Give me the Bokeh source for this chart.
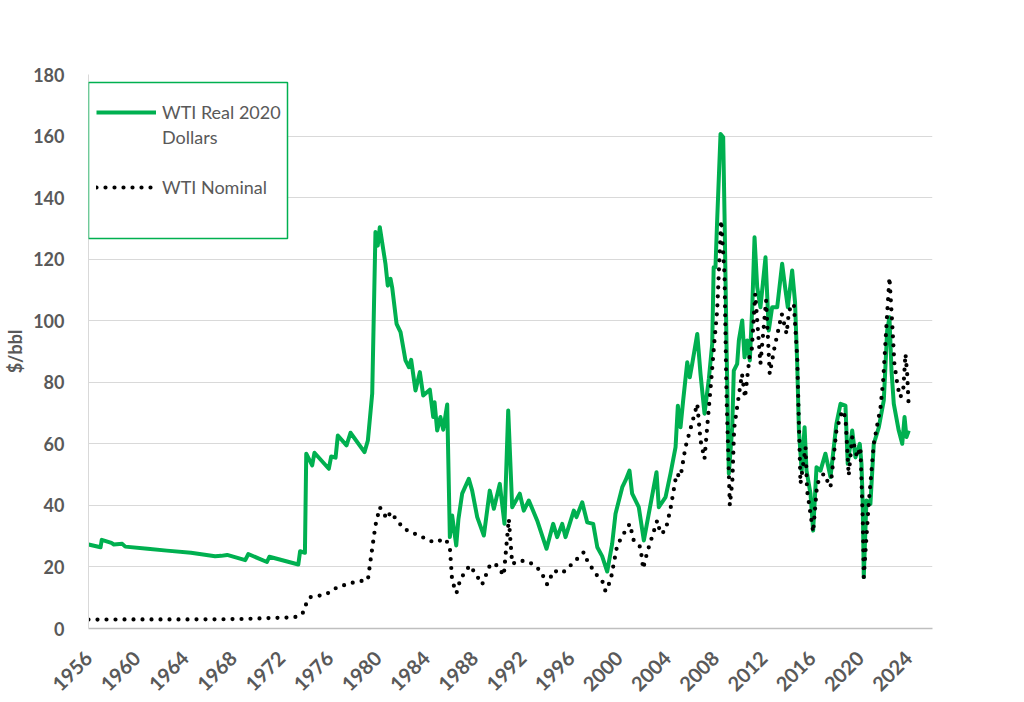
import math
from bokeh.plotting import figure
from bokeh.models import Range1d, FixedTicker, Legend, LegendItem, BoxAnnotation, ColumnDataSource
from bokeh.embed import file_html
from bokeh.resources import INLINE

# ---------------- data ----------------
real_year = [1956.0, 1957.0, 1957.1, 1957.9, 1958.1, 1958.8, 1959.05, 1960.9, 1962.5, 1964.5,
             1966.5, 1967.0, 1967.5, 1969.0, 1969.25, 1970.8, 1971.0, 1973.4, 1973.55, 1973.95,
             1974.06, 1974.55, 1974.74, 1975.93, 1976.13, 1976.49, 1976.68, 1977.4, 1977.73, 1978.89,
             1979.17, 1979.53, 1979.8, 1979.99, 1980.16, 1980.63, 1980.82, 1981.05, 1981.19, 1981.55,
             1981.88, 1982.29, 1982.57, 1982.76, 1983.12, 1983.48, 1983.76, 1984.31, 1984.59, 1984.7,
             1984.92, 1985.19, 1985.42, 1985.75, 1985.97, 1986.16, 1986.5, 1986.68, 1986.99, 1987.54,
             1987.82, 1988.24, 1988.79, 1989.28, 1989.62, 1990.11, 1990.5, 1990.81, 1991.14, 1991.77,
             1992.1, 1992.52, 1993.21, 1993.99, 1994.54, 1994.87, 1995.29, 1995.56, 1996.25, 1996.47,
             1996.95, 1997.36, 1997.86, 1998.2, 1998.6, 1999.02, 1999.43, 1999.71, 2000.27, 2000.54,
             2000.87, 2001.09, 2001.64, 2002.06, 2002.47, 2003.11, 2003.3, 2003.86, 2004.27, 2004.69,
             2004.88, 2005.1, 2005.32, 2005.66, 2005.87, 2006.07, 2006.49, 2006.76, 2007.09, 2007.45,
             2007.73, 2007.85, 2008.0, 2008.14, 2008.42, 2008.64, 2008.75, 2008.92, 2009.11, 2009.39,
             2009.52, 2009.8, 2009.94, 2010.22, 2010.41, 2010.63, 2010.85, 2011.05, 2011.24, 2011.46,
             2011.73, 2012.15, 2012.42, 2012.7, 2013.12, 2013.53, 2013.81, 2014.0, 2014.36, 2014.6,
             2014.78, 2014.92, 2015.15, 2015.39, 2015.55, 2015.88, 2016.1, 2016.38, 2016.71, 2017.12,
             2017.54, 2018.03, 2018.37, 2018.78, 2018.97, 2019.34, 2019.61, 2019.97, 2020.11, 2020.22,
             2020.3, 2020.52, 2020.85, 2021.13, 2021.55, 2021.96, 2022.24, 2022.43, 2022.6, 2022.79,
             2023.2, 2023.49, 2023.68, 2023.84, 2024.03]
real_value = [27.3, 26.4, 28.8, 27.8, 27.3, 27.5, 26.6, 25.9, 25.3, 24.6,
              23.5, 23.6, 23.9, 22.2, 24.2, 21.6, 23.3, 20.8, 25.1, 24.6,
              56.8, 53.0, 57.1, 51.9, 55.9, 55.5, 62.7, 59.5, 63.6, 57.3,
              61.1, 76.3, 128.8, 124.4, 130.4, 118.5, 111.4, 113.6, 110.7, 99.0,
              96.3, 87.1, 84.9, 87.3, 77.3, 83.3, 75.7, 77.6, 68.7, 73.5,
              64.3, 68.7, 64.6, 72.8, 29.7, 36.7, 27.0, 35.5, 43.8, 48.6,
              44.8, 36.2, 30.2, 44.8, 38.9, 47.0, 34.0, 70.8, 39.4, 43.8,
              38.3, 41.6, 35.1, 25.9, 34.0, 29.7, 34.0, 29.7, 38.3, 36.2,
              41.0, 34.5, 34.0, 26.4, 23.5, 18.5, 27.5, 37.3, 45.9, 48.1,
              51.3, 43.8, 39.4, 28.6, 37.3, 50.8, 39.4, 42.7, 50.3, 58.9,
              72.4, 65.4, 74.1, 86.5, 81.6, 86.0, 95.7, 82.7, 69.8, 81.1,
              92.5, 117.4, 117.4, 132.6, 160.7, 159.6, 134.7, 91.4, 50.3, 65.4,
              83.8, 86.0, 93.6, 100.1, 88.1, 93.6, 87.1, 104.4, 127.1, 110.9,
              104.4, 120.6, 96.8, 104.4, 104.4, 118.5, 109.8, 104.4, 116.3, 106.0,
              86.0, 64.3, 51.3, 65.4, 51.3, 43.8, 31.8, 52.4, 51.3, 56.8,
              49.2, 66.5, 73.0, 72.4, 53.5, 64.3, 55.6, 60.0, 53.5, 39.4,
              16.7, 41.6, 40.5, 60.0, 65.4, 74.1, 96.8, 101.1, 83.8, 73.0,
              64.3, 60.0, 68.7, 62.2, 64.3]

nominal_year = [1956.0, 1960.0, 1964.0, 1967.0, 1969.0, 1971.0, 1973.0, 1973.58, 1973.92, 1974.08,
                1974.41, 1975.66, 1976.63, 1978.0, 1979.17, 1979.39, 1979.8, 1980.16, 1980.77, 1981.05,
                1982.15, 1983.4, 1984.64, 1985.61, 1985.97, 1986.16, 1986.52, 1986.85, 1987.62, 1988.1,
                1988.65, 1989.34, 1989.9, 1990.44, 1990.86, 1991.14, 1991.83, 1992.6, 1993.49, 1994.04,
                1994.59, 1995.29, 1996.12, 1997.08, 1997.36, 1998.05, 1998.6, 1998.88, 1999.3, 1999.85,
                2000.39, 2000.89, 2001.22, 2001.78, 2002.0, 2002.34, 2003.17, 2003.44, 2003.86, 2004.27,
                2004.77, 2005.1, 2005.51, 2005.93, 2006.49, 2006.76, 2007.09, 2007.36, 2007.65, 2007.92,
                2008.14, 2008.47, 2008.75, 2008.92, 2009.19, 2009.4, 2009.55, 2009.8, 2010.2, 2010.45,
                2010.85, 2011.0, 2011.3, 2011.73, 2012.2, 2012.5, 2012.9, 2013.5, 2013.9, 2014.1,
                2014.5, 2014.78, 2015.05, 2015.47, 2015.6, 2016.1, 2016.43, 2016.98, 2017.54, 2018.03,
                2018.51, 2018.78, 2019.05, 2019.34, 2019.75, 2020.02, 2020.22, 2020.3, 2020.71, 2021.13,
                2021.69, 2021.91, 2022.24, 2022.43, 2022.66, 2022.84, 2023.12, 2023.33, 2023.57, 2023.76,
                2023.9, 2024.03]
nominal_value = [2.9, 2.95, 2.95, 3.0, 3.1, 3.4, 3.6, 4.2, 5.8, 8.5,
                 10.2, 11.0, 13.4, 15.0, 15.8, 22.1, 33.5, 39.4, 35.6, 37.8,
                 32.4, 30.2, 28.0, 29.1, 26.4, 15.5, 11.5, 16.1, 20.5, 17.8,
                 14.3, 21.0, 20.5, 17.2, 35.6, 21.0, 22.1, 21.5, 18.8, 14.3,
                 18.8, 18.0, 21.0, 24.8, 22.1, 17.8, 15.6, 12.1, 15.6, 27.0,
                 30.8, 34.0, 28.6, 26.4, 19.4, 24.8, 35.1, 30.8, 31.8, 38.9,
                 50.3, 49.2, 58.9, 64.9, 73.0, 61.1, 55.1, 67.6, 80.6, 93.6,
                 103.3, 132.6, 115.0, 75.0, 40.0, 48.0, 65.0, 72.0, 82.7, 75.0,
                 89.0, 90.0, 108.7, 86.0, 106.6, 82.7, 91.4, 102.2, 95.7, 103.3,
                 105.5, 88.0, 47.0, 58.9, 44.8, 31.3, 47.0, 50.3, 45.9, 64.3,
                 70.8, 68.7, 49.7, 62.2, 55.6, 58.9, 35.0, 16.7, 40.5, 60.0,
                 71.9, 80.6, 102.2, 114.1, 99.0, 86.0, 78.4, 75.1, 77.3, 89.2,
                 82.7, 71.9]

x_ticks = list(range(1956, 2025, 4))
y_ticks = list(range(0, 181, 20))
series_labels = ["WTI Real 2020\nDollars", "WTI Nominal"]
y_title = "$/bbl"

GREEN = "#00B050"
GRAY_TXT = "#595959"
GRID = "#D9D9D9"

# ---------------- figure ----------------
p = figure(width=1024, height=702, output_backend="svg", toolbar_location=None,
           x_range=Range1d(1956, 2026), y_range=Range1d(0, 180),
           min_border_left=88, min_border_right=92, min_border_top=74, min_border_bottom=74)
p.outline_line_color = None
p.background_fill_color = "white"
p.border_fill_color = "white"

real_src = ColumnDataSource(dict(x=real_year, y=real_value))
nom_src = ColumnDataSource(dict(x=nominal_year, y=nominal_value))

r_real = p.line("x", "y", source=real_src, line_color=GREEN, line_width=4, line_join="round")
r_nom = p.line("x", "y", source=nom_src, line_color="black", line_width=4.2,
               line_dash="0 9", line_cap="round", line_join="round")
r_blank = p.line(x=[], y=[], line_alpha=0)

# axes
p.xaxis.ticker = FixedTicker(ticks=x_ticks)
p.yaxis.ticker = FixedTicker(ticks=y_ticks)
for ax in (p.xaxis, p.yaxis):
    ax.major_label_text_font = "Lato"
    ax.major_label_text_font_style = "bold"
    ax.major_label_text_font_size = "18px"
    ax.major_label_text_color = GRAY_TXT
    ax.major_tick_line_color = None
    ax.minor_tick_line_color = None
    ax.major_tick_out = 0
    ax.major_tick_in = 0
p.xaxis.major_label_orientation = math.pi / 4
p.xaxis.major_label_text_font_size = "20px"
p.xaxis.major_label_standoff = 26
p.xaxis.axis_line_color = "#BFBFBF"
p.xaxis.axis_line_width = 1.5
p.yaxis.axis_line_color = GRID
p.yaxis.major_label_standoff = 24
p.yaxis.axis_label = y_title
p.yaxis.axis_label_text_font = "Lato"
p.yaxis.axis_label_text_font_style = "bold"
p.yaxis.axis_label_text_font_size = "18px"
p.yaxis.axis_label_text_color = GRAY_TXT
p.yaxis.axis_label_standoff = 4

p.xgrid.grid_line_color = None
p.ygrid.grid_line_color = GRID
p.ygrid.grid_line_width = 1

# legend frame
box = BoxAnnotation(left=0, right=199, top=546, bottom=390,
                    left_units="screen", right_units="screen", top_units="screen", bottom_units="screen",
                    fill_color="white", fill_alpha=1.0, line_color=GREEN, line_alpha=1.0, line_width=1.5)
p.add_layout(box)

first_line, second_line = series_labels[0].split("\n")
legend = Legend(items=[
    LegendItem(label=first_line, renderers=[r_real]),
    LegendItem(label=second_line, renderers=[r_blank]),
    LegendItem(label=" ", renderers=[r_blank]),
    LegendItem(label=series_labels[1], renderers=[r_nom]),
], location=(8, 430), orientation="vertical",
    padding=8, spacing=3, margin=0, glyph_width=60, glyph_height=22, label_height=22,
    label_standoff=6, border_line_color=None, background_fill_alpha=0.0,
    label_text_font="Lato", label_text_font_size="18px", label_text_color=GRAY_TXT)
p.add_layout(legend)

open("out.html", "w").write(file_html(p, INLINE))
